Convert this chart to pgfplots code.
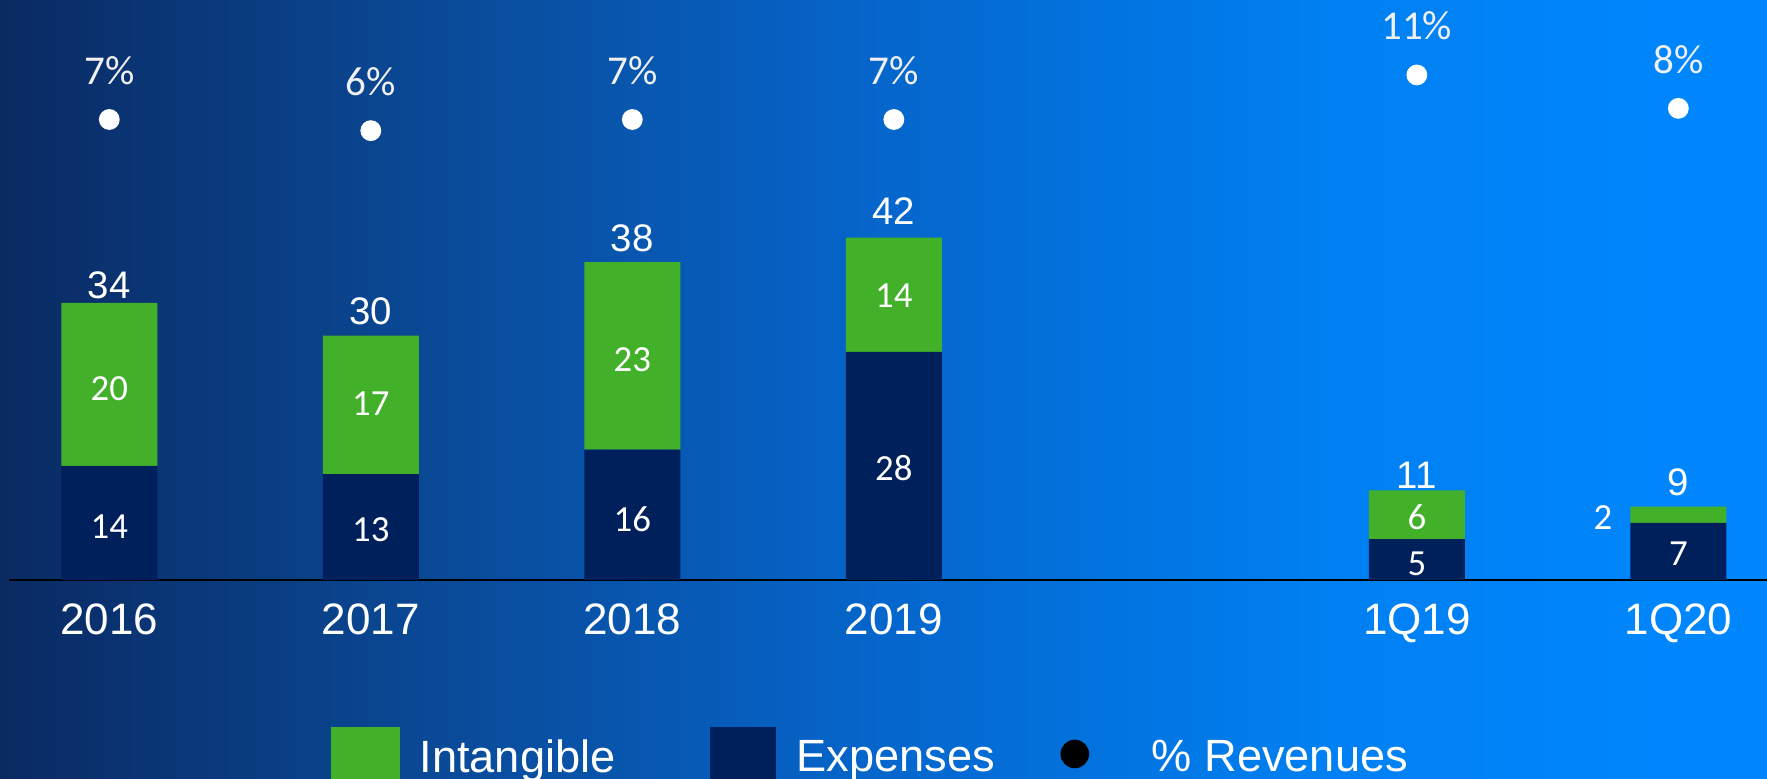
\documentclass[border=0pt]{standalone}
\usepackage{pgfplots}
\pgfplotsset{compat=1.18}
\usepackage{fontspec}
\setmainfont{Liberation Sans}
\newfontfamily\calib{Carlito}

\definecolor{intang}{HTML}{43B02A}
\definecolor{expn}{HTML}{00205B}
\definecolor{bgA}{HTML}{0A2A62}
\definecolor{bgB}{HTML}{0A4A98}
\definecolor{bgC}{HTML}{0566CC}
\definecolor{bgD}{HTML}{0080F2}
\definecolor{bgE}{HTML}{0087FF}
% tikz maps 25bp..75bp of a shading onto the path
\pgfdeclarehorizontalshading{bgshade}{100bp}{color(0bp)=(bgA); color(25bp)=(bgA); color(37.5bp)=(bgB); color(50bp)=(bgC); color(62.5bp)=(bgD); color(75bp)=(bgE); color(100bp)=(bgE)}

\pgfplotsset{
  frame/.style={at={(0pt,49.75pt)}, anchor=south west, scale only axis,
    width=441.75pt, height=145pt, xmin=-0.418, xmax=6.339, clip=false},
}

\begin{document}
\begin{tikzpicture}
\shade[shading=bgshade] (0,0) rectangle (441.75pt,194.75pt);
\useasboundingbox (0,0) rectangle (441.75pt,194.75pt);

% bars
\begin{axis}[frame,
  ymin=0, ymax=71.17,
  ybar stacked, bar width=24pt,
  axis line style={draw=none}, major tick length=0pt,
  ytick=\empty,
  xtick={0,1,2,3,5,6},
  xticklabels={2016,2017,2018,2019,1Q19,1Q20},
  xticklabel style={text=white, font=\fontsize{11}{13}\selectfont, anchor=north, inner sep=0pt, yshift=-5.7pt},
  legend columns=3,
  legend style={draw=none, fill=none, inner sep=0pt, outer sep=0pt,
    at={(0.1873,-0.3129)}, anchor=west,
    nodes={inner sep=0pt, text=white, font=\fontsize{11.3}{13}\selectfont},
    column sep=0pt,
    /tikz/column 1/.style={column sep=5pt},
    /tikz/column 2/.style={column sep=23.7pt},
    /tikz/column 3/.style={column sep=5.2pt},
    /tikz/column 4/.style={column sep=16.3pt},
    /tikz/column 5/.style={column sep=4.2pt}},
]
\addplot[fill=expn, draw=none, forget plot] coordinates {(0,14) (1,13) (2,16) (3,28) (5,5) (6,7)};
\addplot[fill=intang, draw=none, forget plot] coordinates {(0,20) (1,17) (2,23) (3,14) (5,6) (6,2)};
\addlegendimage{legend image code/.code={\fill[intang] (0pt,-9.05pt) rectangle (16.75pt,7.7pt);}}
\addlegendentry{Intangible}
\addlegendimage{legend image code/.code={\fill[expn] (0pt,-9.05pt) rectangle (16pt,7.7pt);}}
\addlegendentry{Expenses}
\addlegendimage{legend image code/.code={\path[draw=none, fill=none] (0pt,-9.05pt) rectangle (18.4pt,7.7pt); \fill[black] (3.375pt,1.2pt) circle[radius=3.375pt];}}
\addlegendentry{\% Revenues}
\draw[black, line width=0.6pt] (axis cs:-0.3836,0) -- (axis cs:6.339,0);
\end{axis}

% value labels
\begin{axis}[frame, ymin=0, ymax=71.17, hide axis]
\addplot[draw=none, nodes near coords, point meta=explicit symbolic,
  nodes near coords style={anchor=center, inner sep=0pt, text=white, font=\calib\fontsize{9.2}{11}\selectfont}]
  coordinates {(0,6.6)[14] (0,23.5)[20] (1,6.2)[13] (1,21.6)[17] (2,7.4)[16] (2,27)[23]
    (3,13.7)[28] (3,34.9)[14] (5,2)[5] (5,7.7)[6] (6,3.2)[7]};
\addplot[draw=none, nodes near coords, point meta=explicit symbolic,
  nodes near coords style={anchor=east, inner sep=0pt, text=white, font=\calib\fontsize{9.2}{11}\selectfont}]
  coordinates {(5.75,7.6)[2]};
\addplot[draw=none, nodes near coords, point meta=explicit symbolic,
  nodes near coords style={anchor=base, inner sep=0pt, yshift=2pt, text=white, font=\fontsize{9.6}{11}\selectfont}]
  coordinates {(0,33.5)[34] (1,30.4)[30] (2,39.3)[38] (3,42.7)[42] (5,10.3)[11] (6,9.4)[9]};
\end{axis}

% share of revenues
\begin{axis}[frame, ymin=-34.34, ymax=17.73, hide axis]
\addplot[only marks, mark=*, mark size=2.4pt, mark options={fill=white, draw=white},
  nodes near coords, point meta=explicit symbolic,
  nodes near coords style={anchor=base, inner sep=0pt, yshift=8.75pt, text=white!94!black, font=\calib\fontsize{10.25}{12}\selectfont}]
  coordinates {(0,7)[7\%] (1,6)[6\%] (2,7)[7\%] (3,7)[7\%] (5,11)[11\%] (6,8)[8\%]};
\end{axis}
\end{tikzpicture}
\end{document}
